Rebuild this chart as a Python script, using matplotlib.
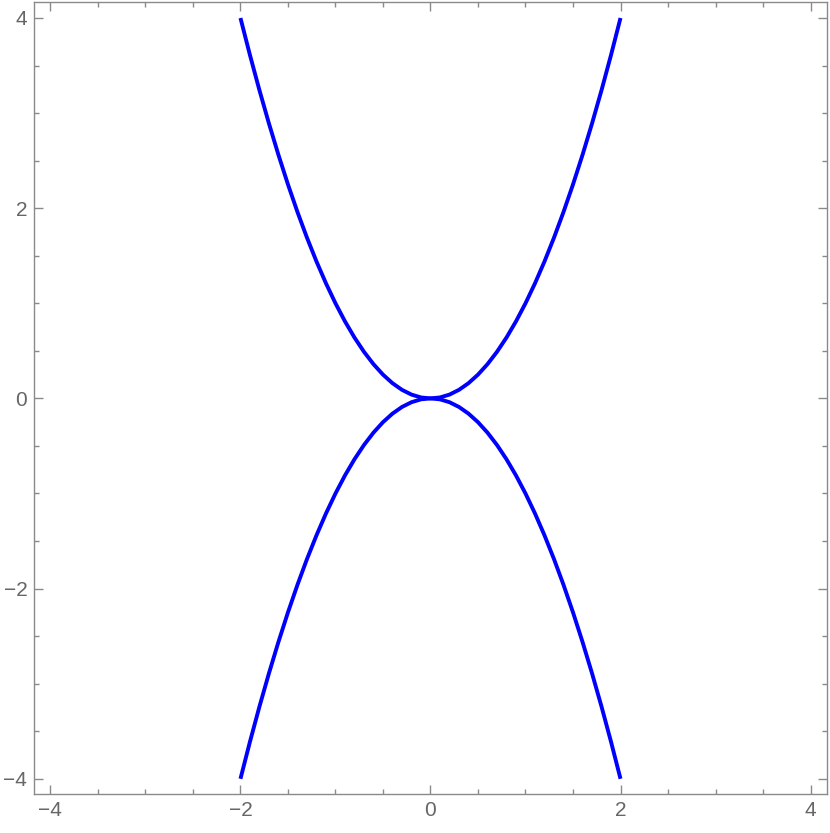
import matplotlib.pyplot as plt
from matplotlib.ticker import MultipleLocator

plt.rcParams.update({
    'font.family': ['Liberation Sans', 'DejaVu Sans'],
    'font.size': 15,
})

# curve samples (x from -2 to 2, step 0.1)
x_vals = [-2.0, -1.9, -1.8, -1.7, -1.6, -1.5, -1.4, -1.3, -1.2, -1.1,
          -1.0, -0.9, -0.8, -0.7, -0.6, -0.5, -0.4, -0.3, -0.2, -0.1,
          0.0, 0.1, 0.2, 0.3, 0.4, 0.5, 0.6, 0.7, 0.8, 0.9,
          1.0, 1.1, 1.2, 1.3, 1.4, 1.5, 1.6, 1.7, 1.8, 1.9, 2.0]
upper = [4.00, 3.61, 3.24, 2.89, 2.56, 2.25, 1.96, 1.69, 1.44, 1.21,
         1.00, 0.81, 0.64, 0.49, 0.36, 0.25, 0.16, 0.09, 0.04, 0.01,
         0.00, 0.01, 0.04, 0.09, 0.16, 0.25, 0.36, 0.49, 0.64, 0.81,
         1.00, 1.21, 1.44, 1.69, 1.96, 2.25, 2.56, 2.89, 3.24, 3.61, 4.00]
lower = [-4.00, -3.61, -3.24, -2.89, -2.56, -2.25, -1.96, -1.69, -1.44, -1.21,
         -1.00, -0.81, -0.64, -0.49, -0.36, -0.25, -0.16, -0.09, -0.04, -0.01,
         0.00, -0.01, -0.04, -0.09, -0.16, -0.25, -0.36, -0.49, -0.64, -0.81,
         -1.00, -1.21, -1.44, -1.69, -1.96, -2.25, -2.56, -2.89, -3.24, -3.61, -4.00]
major_ticks = [-4, -2, 0, 2, 4]

frame_col = '#8a8a8a'
label_col = '#666666'

fig = plt.figure(figsize=(8.3, 8.33), dpi=100)
ax = fig.add_axes([0.0413, 0.0468, 0.9547, 0.951])

for ys in (upper, lower):
    ax.plot(x_vals, ys, color='#0000ff', lw=2.8, solid_capstyle='butt',
            solid_joinstyle='round')

ax.set_xlim(-4.17, 4.17)
ax.set_ylim(-4.16, 4.17)
ax.set_xticks(major_ticks)
ax.set_yticks(major_ticks)
ax.xaxis.set_minor_locator(MultipleLocator(0.5))
ax.yaxis.set_minor_locator(MultipleLocator(0.5))

for s in ax.spines.values():
    s.set_color(frame_col)
    s.set_linewidth(1.0)

ax.tick_params(which='both', direction='in', top=True, right=True,
               color=frame_col, width=1.0, labelcolor=label_col, labelsize=15)
ax.tick_params(which='major', length=6.5, pad=5)
ax.tick_params(which='minor', length=3.6)

fig.savefig('out.png', dpi=100)
